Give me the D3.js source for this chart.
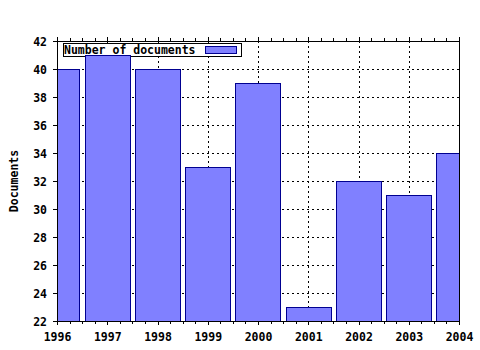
<!DOCTYPE html>
<html>
<head>
<meta charset="utf-8">
<script src="https://cdn.jsdelivr.net/npm/d3@7"></script>
<style>
  body { margin: 0; background: #fff; }
  text { font-family: "DejaVu Sans Mono", monospace; font-weight: bold; font-size: 11.5px; fill: #000; }
</style>
</head>
<body>
<div id="chart"></div>
<script>
// jaren en aantal documenten
var years = [1996, 1997, 1998, 1999, 2000, 2001, 2002, 2003, 2004];
var docs = [40, 41, 40, 33, 39, 23, 32, 31, 34];
var yTicks = [22, 24, 26, 28, 30, 32, 34, 36, 38, 40, 42];
var seriesName = "Number of documents";
var yTitle = "Documents";

var width = 480, height = 350;
var pLeft = 57, pRight = 459, pTop = 41, pBottom = 321;

var svg = d3.select("#chart").append("svg")
    .attr("width", width)
    .attr("height", height);

var x = d3.scaleLinear().domain([1996, 2004]).range([pLeft, pRight]);
var y = d3.scaleLinear().domain([22, 42]).range([pBottom, pTop]);

svg.append("clipPath").attr("id", "plot")
    .append("rect")
    .attr("x", pLeft).attr("y", pTop)
    .attr("width", pRight - pLeft).attr("height", pBottom - pTop);

// grid (stippellijnen)
var grid = svg.append("g")
    .attr("stroke", "#000")
    .attr("stroke-width", 1)
    .attr("stroke-dasharray", "2,3");
grid.selectAll("line.gy")
    .data(yTicks.slice(1, -1))
    .enter().append("line")
    .attr("x1", pLeft).attr("x2", pRight)
    .attr("y1", function(d){ return Math.round(y(d)) + 0.5; })
    .attr("y2", function(d){ return Math.round(y(d)) + 0.5; });
grid.selectAll("line.gx")
    .data(years.slice(1, -1))
    .enter().append("line")
    .attr("y1", pTop).attr("y2", pBottom)
    .attr("x1", function(d){ return Math.round(x(d)) + 0.5; })
    .attr("x2", function(d){ return Math.round(x(d)) + 0.5; });

// legenda (onder de bars)
var lg = svg.append("g");
lg.append("rect")
    .attr("x", 63.5).attr("y", 43.5)
    .attr("width", 178).attr("height", 13)
    .attr("fill", "#fff").attr("stroke", "#000");
lg.append("text")
    .attr("x", 64).attr("y", 54)
    .text(seriesName);
lg.append("rect")
    .attr("x", 205.5).attr("y", 46.5)
    .attr("width", 31).attr("height", 7)
    .attr("fill", "#8080ff").attr("stroke", "#000090");

// bars
var barw = 0.9 * (x(1997) - x(1996));
svg.append("g")
    .attr("clip-path", "url(#plot)")
    .selectAll("rect")
    .data(years)
    .enter().append("rect")
    .attr("x", function(d){ return Math.round(x(d) - barw / 2) + 0.5; })
    .attr("y", function(d, i){ return Math.round(y(docs[i])) + 0.5; })
    .attr("width", Math.round(barw))
    .attr("height", function(d, i){ return Math.round(y(22) - y(docs[i])) + 2; })
    .attr("fill", "#8080ff")
    .attr("stroke", "#000090")
    .attr("stroke-width", 1);

// frame
svg.append("rect")
    .attr("x", pLeft + 0.5).attr("y", pTop + 0.5)
    .attr("width", pRight - pLeft).attr("height", pBottom - pTop)
    .attr("fill", "none")
    .attr("stroke", "#000");

// x-as ticks (kwartalen) onder en boven
var minor = d3.range(1996, 2004.01, 0.25);
var ticks = svg.append("g").attr("stroke", "#000");
ticks.selectAll("line.b")
    .data(minor)
    .enter().append("line")
    .attr("x1", function(d){ return Math.round(x(d)) + 0.5; })
    .attr("x2", function(d){ return Math.round(x(d)) + 0.5; })
    .attr("y1", pBottom + 0.5)
    .attr("y2", function(d){ return pBottom + (d % 1 === 0 ? 4 : 3); });
ticks.selectAll("line.t")
    .data(minor)
    .enter().append("line")
    .attr("x1", function(d){ return Math.round(x(d)) + 0.5; })
    .attr("x2", function(d){ return Math.round(x(d)) + 0.5; })
    .attr("y1", pTop + 0.5)
    .attr("y2", function(d){ return pTop - (d % 1 === 0 ? 4 : 3); });
ticks.selectAll("line.l")
    .data(yTicks)
    .enter().append("line")
    .attr("x1", pLeft - 4).attr("x2", pLeft + 0.5)
    .attr("y1", function(d){ return Math.round(y(d)) + 0.5; })
    .attr("y2", function(d){ return Math.round(y(d)) + 0.5; });

// labels
svg.selectAll("text.xl")
    .data(years)
    .enter().append("text")
    .attr("x", function(d){ return x(d) + 0.5; })
    .attr("y", 341)
    .attr("text-anchor", "middle")
    .text(function(d){ return d; });

svg.selectAll("text.yl")
    .data(yTicks)
    .enter().append("text")
    .attr("x", 47)
    .attr("y", function(d){ return y(d) + 4.5; })
    .attr("text-anchor", "end")
    .text(function(d){ return d; });

svg.append("text")
    .attr("transform", "translate(18," + ((pTop + pBottom) / 2) + ") rotate(-90)")
    .attr("text-anchor", "middle")
    .text(yTitle);
</script>
</body>
</html>
